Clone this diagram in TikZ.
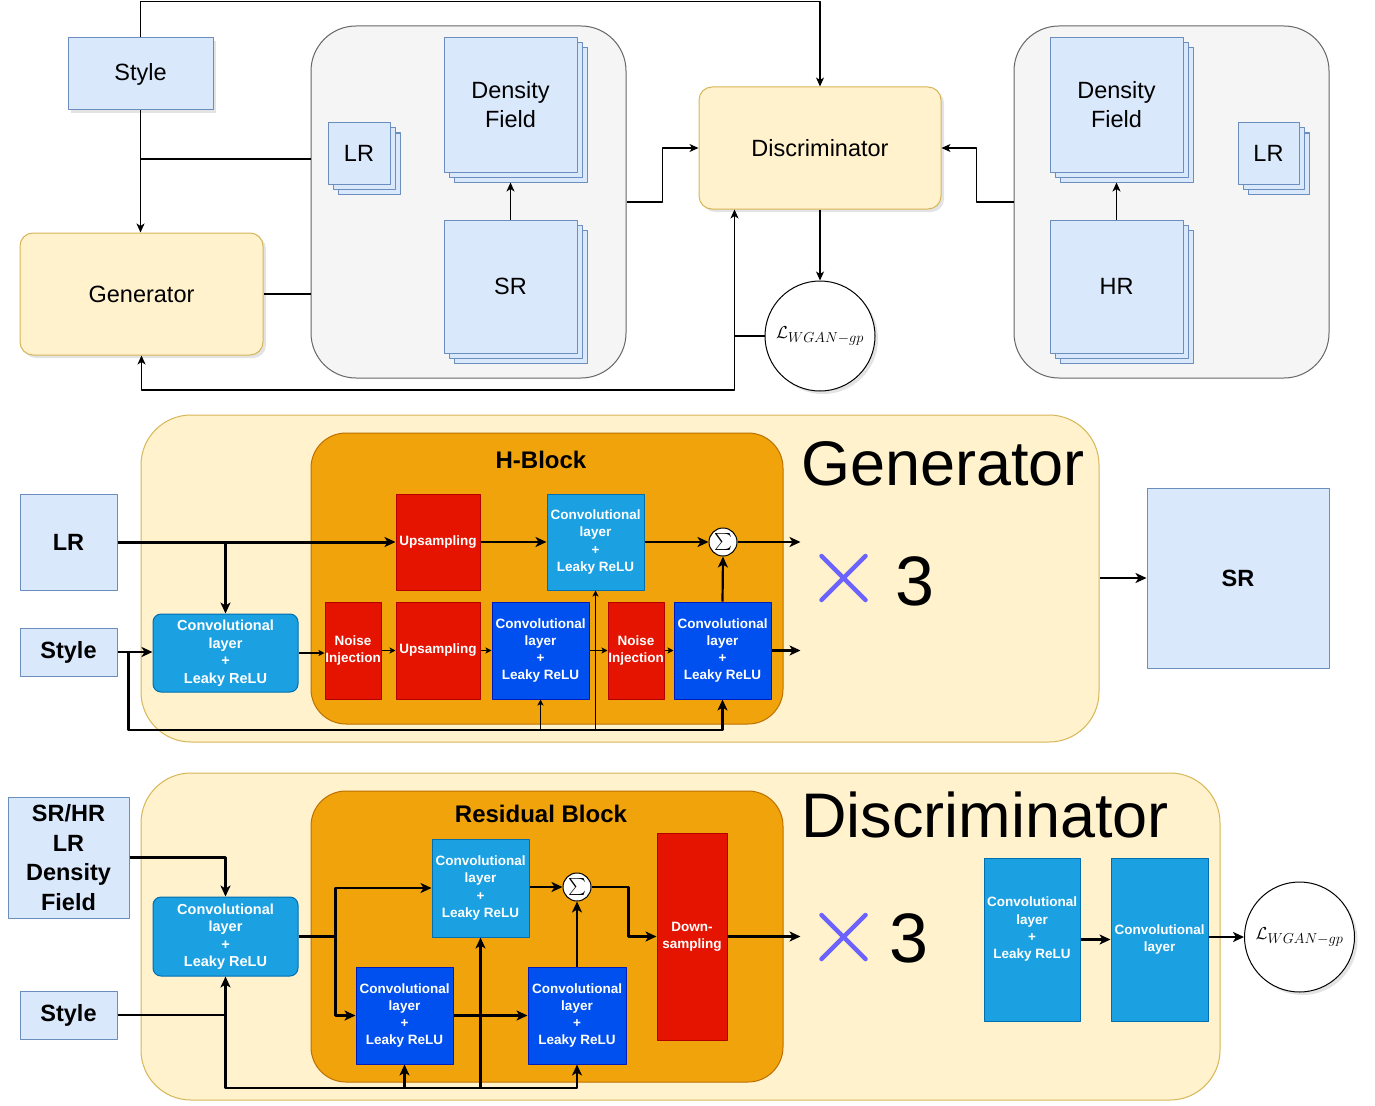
\documentclass[tikz,border=0pt]{standalone}
\usepackage{amsmath,amssymb}
\usepackage[no-math]{fontspec}
\setmainfont{Liberation Sans}
\usetikzlibrary{arrows.meta,calc,positioning,shadows}
\definecolor{gnBlue}{HTML}{DAE8FC}
\definecolor{gnBlueLine}{HTML}{6C8EBF}
\definecolor{gnSand}{HTML}{FFF2CC}
\definecolor{gnSandLine}{HTML}{D6B656}
\definecolor{gnGray}{HTML}{F5F5F5}
\definecolor{gnGrayLine}{HTML}{666666}
\definecolor{gnOrange}{HTML}{F0A30A}
\definecolor{gnOrangeLine}{HTML}{BD7000}
\definecolor{gnRed}{HTML}{E51400}
\definecolor{gnRedLine}{HTML}{B20000}
\definecolor{gnCyan}{HTML}{1BA1E2}
\definecolor{gnCyanLine}{HTML}{006EAF}
\definecolor{gnNavy}{HTML}{0050EF}
\definecolor{gnNavyLine}{HTML}{001DBC}
\definecolor{gnCross}{HTML}{6C63FF}
\newcommand{\ganfont}[2]{\fontsize{#1}{#2}\selectfont}
\tikzset{
 gan/.style={line join=round,font=\ganfont{23.5}{29}},
 shade/.style={drop shadow={opacity=.22,shadow xshift=3pt,shadow yshift=-3pt}},
 databox/.style={draw=gnBlueLine,fill=gnBlue,line width=1pt,inner sep=0pt,align=center},
 stack/.style={databox,double copy shadow={shadow xshift=5pt,shadow yshift=-5pt}},
 netbox/.style={draw=gnSandLine,fill=gnSand,line width=1pt,rounded corners=13pt,shade},
 holder/.style={draw=gnGrayLine,fill=gnGray,line width=1pt,rounded corners=45pt},
 loss/.style={circle,draw,fill=white,line width=1pt,minimum size=110pt,inner sep=0pt,
   font=\ganfont{19}{21},shade},
 panel/.style={draw=gnSandLine,fill=gnSand,line width=1pt,rounded corners=50pt},
 block/.style={draw=gnOrangeLine,fill=gnOrange,line width=1pt,rounded corners=35pt},
 blocktitle/.style={font=\bfseries\ganfont{24}{28}},
 bigtitle/.style={font=\ganfont{63}{70},anchor=base west,inner sep=0pt},
 count/.style={font=\ganfont{70}{76},anchor=base west,inner sep=0pt},
 layer/.style={inner sep=0pt,align=center,text=white,line width=1pt,
   font=\bfseries\ganfont{13.5}{17.3}},
 convA/.style={layer,draw=gnCyanLine,fill=gnCyan},
 convB/.style={layer,draw=gnNavyLine,fill=gnNavy},
 convIn/.style={convA,rounded corners=8pt,font=\bfseries\ganfont{14.5}{17.5}},
 resamp/.style={layer,draw=gnRedLine,fill=gnRed},
 sumnode/.style={circle,draw,fill=white,line width=1pt,minimum size=28pt,inner sep=0pt,
   font=\ganfont{17}{19}},
 link/.style={draw,line width=1.2pt},
 linkto/.style={link,-{Stealth[length=9pt,width=8pt,inset=2.5pt]}},
 pipe/.style={draw,line width=2.2pt},
 pipeto/.style={pipe,-{Stealth[length=11pt,width=10pt,inset=3pt]}},
 hop/.style={draw,line width=1.5pt,-{Stealth[length=6pt,width=6pt,inset=1.5pt]}},
 cross/.style={draw=gnCross,line width=4.5pt,line cap=round}
}

\begin{document}
\begin{tikzpicture}[gan,x=1pt,y=-1pt]
 \useasboundingbox (0,0) rectangle (1375,1105);
 \node[holder,minimum width=315pt,minimum height=352pt] (holdSR) at (468.5,202) {};
 \node[holder,minimum width=315pt,minimum height=352pt] (holdHR) at (1171.5,202) {};
 \node[databox,shade,minimum width=145pt,minimum height=72pt] (styleTop) at (140.5,74) {Style};
 \node[netbox,minimum width=243pt,minimum height=122pt] (genTop) at (141.5,294) {Generator};
 \node[netbox,minimum width=242pt,minimum height=122pt] (discTop) at (820,148) {Discriminator};
 \node[stack,minimum width=62pt,minimum height=61pt] (lrSR) at (359,153.5) {LR};
 \node[stack,minimum width=133pt,minimum height=134pt] (dfSR) at (510.5,105) {Density\\Field};
 \node[stack,minimum width=133pt,minimum height=133pt] (srSR) at (510.5,286.5) {SR};
 \node[stack,minimum width=133pt,minimum height=134pt] (dfHR) at (1116.5,105) {Density\\Field};
 \node[stack,minimum width=133pt,minimum height=133pt] (hrHR) at (1116.5,286.5) {HR};
 \node[stack,minimum width=61pt,minimum height=61pt] (lrHR) at (1268.5,153.5) {LR};
 \node[loss] (lossTop) at (820,336) {$\mathcal{L}_{WGAN-gp}$};
 \coordinate (jStyle) at (140.5,159);
 \draw[linkto] (styleTop.north) -- ++(0,-36) -| (discTop.north);
 \draw[linkto] (styleTop.south) -- (styleTop.south |- genTop.north);
 \draw[link] (jStyle) -- (jStyle -| holdSR.west);
 \draw[link] (genTop.east) -- (genTop.east -| holdSR.west);
 \draw[linkto] (srSR.north) -- ([yshift=-10pt]dfSR.south);
 \draw[linkto] (hrHR.north) -- ([yshift=-10pt]dfHR.south);
 \draw[linkto] (holdSR.east) -- ++(36,0) |- (discTop.west);
 \draw[linkto] (holdHR.west) -- ++(-37,0) |- (discTop.east);
 \draw[linkto] (discTop.south) -- (lossTop.north);
 \draw[linkto] (lossTop.west) -- ++(-30,0) coordinate (jLoss) -- (jLoss |- discTop.south);
 \draw[linkto] (jLoss) -- (jLoss |- 0,390) -| (genTop.south);

 \node[panel,minimum width=958pt,minimum height=327pt] (panelG) at (620,578.5) {};
 \node[block,minimum width=472pt,minimum height=291pt] (hBlock) at (547,578.5) {};
 \node[blocktitle] (hTitle) at (541,460) {H-Block};
 \node[bigtitle] (genTitle) at (801,485) {Generator};
 \node[databox,font=\bfseries\ganfont{23.5}{29},minimum width=97pt,minimum height=96pt] (lrG) at (68.5,542) {LR};
 \node[databox,font=\bfseries\ganfont{23.5}{29},minimum width=97pt,minimum height=48pt] (styleG) at (68.5,652) {Style};
 \node[convIn,minimum width=145pt,minimum height=78pt] (convG0) at (225.5,653) {Convolutional\\layer\\+\\Leaky ReLU};
 \node[resamp,minimum width=84pt,minimum height=96pt] (upG1) at (438,542) {Upsampling};
 \node[convA,minimum width=97pt,minimum height=96pt] (convG1) at (595.5,542) {Convolutional\\layer\\+\\Leaky ReLU};
 \node[sumnode] (sumG) at (723,542) {$\sum$};
 \node[resamp,minimum width=56pt,minimum height=97pt] (noiseG1) at (353,650.5) {Noise\\Injection};
 \node[resamp,minimum width=84pt,minimum height=97pt] (upG2) at (438,650.5) {Upsampling};
 \node[convB,minimum width=97pt,minimum height=97pt] (convG2) at (540.5,650.5) {Convolutional\\layer\\+\\Leaky ReLU};
 \node[resamp,minimum width=56pt,minimum height=97pt] (noiseG2) at (636,650.5) {Noise\\Injection};
 \node[convB,minimum width=97pt,minimum height=97pt] (convG3) at (722.5,650.5) {Convolutional\\layer\\+\\Leaky ReLU};
 \coordinate (crossG) at (843.5,578);
 \draw[cross] ($(crossG)+(-22,-22)$) -- ($(crossG)+(22,22)$);
 \draw[cross] ($(crossG)+(-22,22)$) -- ($(crossG)+(22,-22)$);
 \node[count] (threeG) at (895,605) {3};
 \node[databox,font=\bfseries\ganfont{23.5}{29},minimum width=182pt,minimum height=180pt] (srG) at (1238,578) {SR};
 \coordinate (railG) at (0,730);
 \draw[pipeto,line width=3pt] (lrG.east) -- (upG1.west);
 \draw[pipeto] (convG0.north |- lrG.east) -- (convG0.north);
 \draw[pipeto] (upG1.east) -- (convG1.west);
 \draw[pipeto] (convG1.east) -- (sumG.west);
 \draw[pipeto] (sumG.east) -- ++(63,0);
 \draw[pipeto] (styleG.east) -- (styleG.east -| convG0.west);
 \draw[pipeto] (styleG.east) -- ++(11,0) |- (railG -| convG3.south) -- (convG3.south);
 \draw[hop] (convG2.south |- railG) -- (convG2.south);
 \draw[hop] (convG1.south |- railG) -- (convG1.south);
 \draw[hop] (convG0.east) -- (convG0.east -| noiseG1.west);
 \draw[hop] (noiseG1.east) -- (upG2.west);
 \draw[hop] (upG2.east) -- (convG2.west);
 \draw[hop] (convG2.east) -- (noiseG2.west);
 \draw[hop] (noiseG2.east) -- (convG3.west);
 \draw[pipeto] (convG3.north) -- (sumG.south);
 \draw[pipeto] (convG3.east) -- ++(29,0);
 \draw[pipeto] (panelG.east |- srG.west) -- (srG.west);

 \node[panel,minimum width=1079pt,minimum height=327pt] (panelD) at (680.5,936.5) {};
 \node[block,minimum width=472pt,minimum height=291pt] (rBlock) at (547,936.5) {};
 \node[blocktitle] (rTitle) at (541,814) {Residual Block};
 \node[bigtitle] (discTitle) at (801,837) {Discriminator};
 \node[databox,font=\bfseries\ganfont{23.5}{29.5},minimum width=121pt,minimum height=121pt] (inD) at (68.5,857.5) {SR/HR\\LR\\Density\\Field};
 \node[databox,font=\bfseries\ganfont{23.5}{29},minimum width=97pt,minimum height=48pt] (styleD) at (68.5,1015) {Style};
 \node[convIn,minimum width=145pt,minimum height=79pt] (convD0) at (225.5,936.5) {Convolutional\\layer\\+\\Leaky ReLU};
 \node[convA,minimum width=97pt,minimum height=98pt] (convD1) at (480.5,888) {Convolutional\\layer\\+\\Leaky ReLU};
 \node[sumnode] (sumD) at (577,887) {$\sum$};
 \node[resamp,minimum width=70pt,minimum height=207pt] (downD) at (692,936.5) {Down-\\sampling};
 \node[convB,minimum width=97pt,minimum height=97pt] (convD2) at (404.5,1015.5) {Convolutional\\layer\\+\\Leaky ReLU};
 \node[convB,minimum width=98pt,minimum height=97pt] (convD3) at (577,1015.5) {Convolutional\\layer\\+\\Leaky ReLU};
 \coordinate (crossD) at (843.5,937);
 \draw[cross] ($(crossD)+(-22,-22)$) -- ($(crossD)+(22,22)$);
 \draw[cross] ($(crossD)+(-22,22)$) -- ($(crossD)+(22,-22)$);
 \node[count] (threeD) at (889,962) {3};
 \node[convA,minimum width=96pt,minimum height=163pt] (convD4) at (1032,939.5) {Convolutional\\layer\\+\\Leaky ReLU\\[6pt]};
 \node[convA,minimum width=97pt,minimum height=163pt] (convD5) at (1159.5,939.5) {Convolutional\\layer};
 \node[loss] (lossD) at (1299.5,937) {$\mathcal{L}_{WGAN-gp}$};
 \coordinate (railD) at (0,1088);
 \draw[pipeto] (inD.east) -| (convD0.north);
 \draw[pipeto] (styleD.east) -| (convD0.south);
 \draw[pipeto] (styleD.east -| convD0.south) |- (railD -| convD3.south) -- (convD3.south);
 \draw[pipeto] (convD2.south |- railD) -- (convD2.south);
 \draw[pipeto] (convD1.south |- railD) -- (convD1.south);
 \draw[pipeto] (convD0.east) -- ++(37,0) coordinate (jD) |- (convD1.west);
 \draw[pipeto] (jD) |- (convD2.west);
 \draw[pipeto] (convD2.east) -- (convD3.west);
 \draw[pipeto] (convD3.north) -- (sumD.south);
 \draw[pipeto] (convD1.east |- sumD.west) -- (sumD.west);
 \draw[pipeto] (sumD.east) -- ++(37,0) |- (downD.west);
 \draw[pipeto] (downD.east) -- ++(73,0);
 \draw[pipeto] (convD4.east) -- (convD5.west);
 \draw[pipeto] (convD5.east |- lossD.west) -- (lossD.west);
\end{tikzpicture}
\end{document}
